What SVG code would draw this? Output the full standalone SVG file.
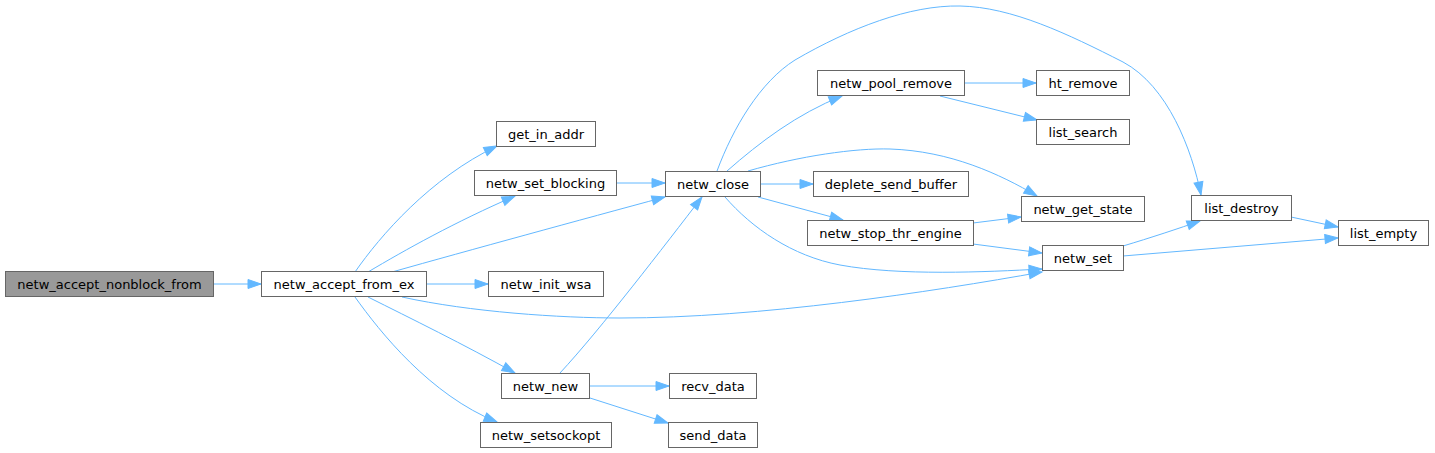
<svg xmlns="http://www.w3.org/2000/svg" width="1435" height="453" viewBox="0 0 1435 453">
<style>
.node rect{fill:#ffffff;stroke:#666666;stroke-width:1}
.node.root rect{fill:#999999}
.node text{font-family:"DejaVu Sans",sans-serif;font-size:13px;text-anchor:middle;fill:#000000}
.edges path{fill:none;stroke:#63b8ff;stroke-width:1;marker-end:url(#ah)}
</style>
<defs>
<marker id="ah" markerWidth="15" markerHeight="12" refX="13" refY="5" orient="auto" markerUnits="userSpaceOnUse" overflow="visible">
<path d="M0,0.5 L13,5 L0,9.5 z" fill="#63b8ff" stroke="#63b8ff" stroke-width="1"/>
</marker>
</defs>
<rect width="1435" height="453" fill="#ffffff"/>
<g class="edges" id="edges">
<path d="M213.5,284 L261,284"/>
<path d="M355,272 C 380,236 430,178 497,146"/>
<path d="M368,272 C 405,250 455,222 515,196"/>
<path d="M392,272 C 470,250 580,220 665,197"/>
<path d="M427,284 L488,284"/>
<path d="M402,297 C 470,312 560,318 620,318 C 760,318 930,292 1042,272"/>
<path d="M368,297 C 410,318 465,345 515,373"/>
<path d="M355,297 C 380,332 430,395 497,422"/>
<path d="M617,183 L665,183"/>
<path d="M560,373 C 600,330 665,245 702,197"/>
<path d="M590,386 L669,386"/>
<path d="M590,398 L668,423"/>
<path d="M717,171 C 733,128 760,82 795,60 C 850,28 910,5 960,6 C 1012,7 1068,34 1123,62 C 1168,86 1192,150 1201,195"/>
<path d="M727,171 C 760,142 797,114 842,96"/>
<path d="M748,171 C 800,156 855,148 890,149 C 950,151 1000,174 1037,196"/>
<path d="M760,184 L813,184"/>
<path d="M758,197 L843,220"/>
<path d="M725,197 C 752,228 792,256 840,265 C 900,276 985,272 1042,269"/>
<path d="M964,83 L1036,83"/>
<path d="M940,96 L1037,120"/>
<path d="M973,223 L1021,217"/>
<path d="M973,244 L1042,253"/>
<path d="M1123,246 C 1150,238 1180,228 1200,221"/>
<path d="M1123,256 L1338,238"/>
<path d="M1291,217 L1338,227"/>
</g>
<g class="node root" id="n_netw_accept_nonblock_from"><rect x="5.5" y="271.5" width="208" height="25"/><text x="109.5" y="288.5">netw_accept_nonblock_from</text></g>
<g class="node" id="n_netw_accept_from_ex"><rect x="261.5" y="271.5" width="165" height="25"/><text x="344" y="288.5">netw_accept_from_ex</text></g>
<g class="node" id="n_get_in_addr"><rect x="496.5" y="121.5" width="99" height="25"/><text x="546" y="138.5">get_in_addr</text></g>
<g class="node" id="n_netw_set_blocking"><rect x="474.5" y="170.5" width="142" height="25"/><text x="545.5" y="187.5">netw_set_blocking</text></g>
<g class="node" id="n_netw_close"><rect x="665.5" y="171.5" width="95" height="25"/><text x="713" y="188.5">netw_close</text></g>
<g class="node" id="n_netw_init_wsa"><rect x="488.5" y="271.5" width="115" height="25"/><text x="546" y="288.5">netw_init_wsa</text></g>
<g class="node" id="n_netw_new"><rect x="501.5" y="373.5" width="88" height="25"/><text x="545.5" y="390.5">netw_new</text></g>
<g class="node" id="n_netw_setsockopt"><rect x="480.5" y="422.5" width="131" height="25"/><text x="546" y="439.5">netw_setsockopt</text></g>
<g class="node" id="n_recv_data"><rect x="669.5" y="373.5" width="87" height="25"/><text x="713" y="390.5">recv_data</text></g>
<g class="node" id="n_send_data"><rect x="668.5" y="422.5" width="89" height="25"/><text x="713" y="439.5">send_data</text></g>
<g class="node" id="n_netw_pool_remove"><rect x="817.5" y="70.5" width="147" height="25"/><text x="891" y="87.5">netw_pool_remove</text></g>
<g class="node" id="n_deplete_send_buffer"><rect x="813.5" y="171.5" width="155" height="25"/><text x="891" y="188.5">deplete_send_buffer</text></g>
<g class="node" id="n_netw_stop_thr_engine"><rect x="807.5" y="220.5" width="166" height="25"/><text x="890.5" y="237.5">netw_stop_thr_engine</text></g>
<g class="node" id="n_ht_remove"><rect x="1036.5" y="70.5" width="93" height="25"/><text x="1083" y="87.5">ht_remove</text></g>
<g class="node" id="n_list_search"><rect x="1036.5" y="119.5" width="93" height="25"/><text x="1083" y="136.5">list_search</text></g>
<g class="node" id="n_netw_get_state"><rect x="1021.5" y="196.5" width="123" height="25"/><text x="1083" y="213.5">netw_get_state</text></g>
<g class="node" id="n_netw_set"><rect x="1042.5" y="245.5" width="81" height="25"/><text x="1083" y="262.5">netw_set</text></g>
<g class="node" id="n_list_destroy"><rect x="1191.5" y="195.5" width="100" height="25"/><text x="1241.5" y="212.5">list_destroy</text></g>
<g class="node" id="n_list_empty"><rect x="1338.5" y="220.5" width="90" height="25"/><text x="1383.5" y="237.5">list_empty</text></g>
</svg>
